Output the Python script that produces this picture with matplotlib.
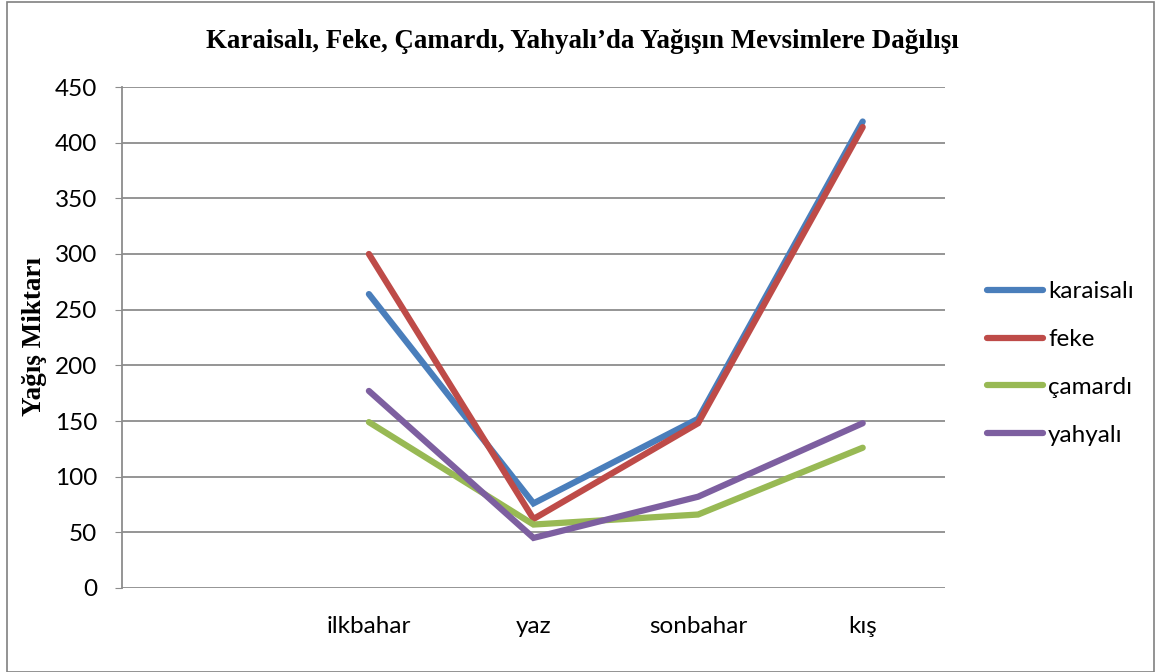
import matplotlib
matplotlib.use("Agg")
import matplotlib.pyplot as plt
from matplotlib.patches import Rectangle

categories = ["", "ilkbahar", "yaz", "sonbahar", "kış"]
karaisali = [None, 264, 76, 152, 419]
feke = [None, 300, 62, 148, 414]
camardi = [None, 149, 57, 66, 126]
yahyali = [None, 177, 45, 82, 148]
series_names = ["karaisalı", "feke", "çamardı", "yahyalı"]
colors = ["#4a7ebb", "#be4b48", "#98b954", "#7d5fa0"]

W, H = 1155, 672
fig = plt.figure(figsize=(W / 100, H / 100), dpi=100)
fig.patches.append(Rectangle((7 / W, 0), (W - 8) / W, 1 - 2 / H, transform=fig.transFigure,
                             fill=False, edgecolor="#808080", linewidth=1.2))

left, right, top, bottom = 122, 945, 87, 588
ax = fig.add_axes([left / W, 1 - bottom / H, (right - left) / W, (bottom - top) / H])

x = list(range(len(categories)))
for name, vals, c in zip(series_names, [karaisali, feke, camardi, yahyali], colors):
    xs = [xi for xi, v in zip(x, vals) if v is not None]
    ys = [v for v in vals if v is not None]
    ax.plot(xs, ys, color=c, linewidth=4.5, solid_capstyle="round", solid_joinstyle="miter", label=name)

ax.set_xlim(-0.5, len(categories) - 0.5)
ax.set_ylim(0, 450)
ax.set_yticks(range(0, 451, 50))
ax.set_xticks(x)
ax.set_xticklabels(categories)
ax.grid(axis="y", color="#8c8c8c", linewidth=1.3)
ax.set_axisbelow(True)
for s in ["top", "right", "bottom"]:
    ax.spines[s].set_visible(False)
ax.spines["left"].set_color("#8c8c8c")
ax.spines["left"].set_linewidth(1.3)
ax.tick_params(axis="y", length=5, color="#8c8c8c", labelsize=17.5, pad=13)
ax.tick_params(axis="x", length=0, labelsize=17.5, pad=20)
for lab in ax.get_xticklabels() + ax.get_yticklabels():
    lab.set_fontfamily("Lato")

fig.text(582 / W, 1 - 42 / H, "Karaisalı, Feke, Çamardı, Yahyalı’da Yağışın Mevsimlere Dağılışı",
         ha="center", va="center", fontsize=19.4, fontweight="bold", family="Liberation Serif")
fig.text(35 / W, 1 - 337 / H, "Yağış Miktarı", ha="center", va="center", rotation=90,
         fontsize=19.5, fontweight="bold", family="Liberation Serif")

leg = fig.legend(loc="upper left", bbox_to_anchor=(980 / W, 1 - 274 / H), frameon=False,
                 prop={"family": "Lato", "size": 17.5}, handlelength=2.3, handletextpad=0.2,
                 labelspacing=1.1, borderaxespad=0, borderpad=0.3)
for h in leg.get_lines():
    h.set_linewidth(4.5)

fig.savefig("out.png", dpi=100)
